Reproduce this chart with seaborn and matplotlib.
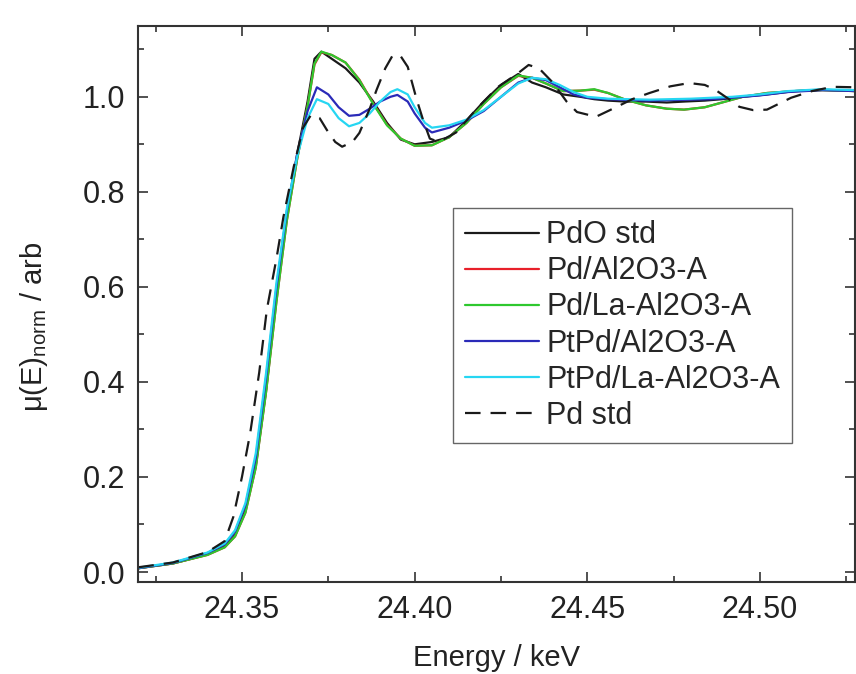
import numpy as np
import pandas as pd
import matplotlib
matplotlib.use('Agg')
import matplotlib.pyplot as plt
import seaborn as sns
from matplotlib.ticker import MultipleLocator

# %% data
labels = ['PdO std', 'Pd/Al2O3-A', 'Pd/La-Al2O3-A', 'PtPd/Al2O3-A', 'PtPd/La-Al2O3-A', 'Pd std']

e_pd = [24.320, 24.330, 24.340, 24.345, 24.348, 24.351, 24.354, 24.357, 24.360, 24.363,
        24.366, 24.369, 24.371, 24.373, 24.376, 24.380, 24.384, 24.388, 24.392, 24.396,
        24.400, 24.405, 24.410, 24.415, 24.420, 24.425, 24.430, 24.434, 24.438, 24.443,
        24.448, 24.452, 24.456, 24.461, 24.467, 24.473, 24.478, 24.484, 24.489, 24.495,
        24.502, 24.510, 24.518, 24.528]
mu_pdo = [0.008, 0.018, 0.037, 0.054, 0.078, 0.130, 0.225, 0.385, 0.580, 0.750,
          0.880, 0.990, 1.080, 1.095, 1.080, 1.060, 1.030, 0.990, 0.945, 0.910,
          0.900, 0.905, 0.915, 0.950, 0.990, 1.025, 1.048, 1.030, 1.020, 1.005,
          1.000, 0.995, 0.992, 0.990, 0.990, 0.988, 0.990, 0.992, 0.995, 1.000,
          1.005, 1.012, 1.015, 1.012]
mu_pd_al = [0.008, 0.018, 0.036, 0.052, 0.075, 0.125, 0.220, 0.380, 0.570, 0.740,
            0.870, 0.980, 1.068, 1.094, 1.088, 1.072, 1.036, 0.986, 0.941, 0.912,
            0.897, 0.898, 0.915, 0.945, 0.985, 1.020, 1.044, 1.040, 1.028, 1.012,
            1.013, 1.015, 1.008, 0.994, 0.982, 0.975, 0.973, 0.978, 0.988, 1.000,
            1.008, 1.012, 1.014, 1.012]
mu_pd_la = [0.008, 0.018, 0.036, 0.052, 0.075, 0.125, 0.220, 0.380, 0.570, 0.740,
            0.870, 0.980, 1.070, 1.095, 1.088, 1.072, 1.035, 0.985, 0.940, 0.912,
            0.897, 0.898, 0.915, 0.945, 0.985, 1.020, 1.045, 1.040, 1.028, 1.012,
            1.013, 1.016, 1.008, 0.994, 0.982, 0.975, 0.973, 0.978, 0.988, 1.000,
            1.008, 1.012, 1.014, 1.012]

e_ptpd = [24.320, 24.330, 24.340, 24.345, 24.348, 24.351, 24.354, 24.357, 24.360, 24.363,
          24.366, 24.369, 24.3717, 24.375, 24.378, 24.381, 24.384, 24.387, 24.390, 24.393,
          24.395, 24.398, 24.400, 24.403, 24.405, 24.410, 24.415, 24.420, 24.425, 24.430,
          24.434, 24.438, 24.442, 24.446, 24.450, 24.456, 24.462, 24.468, 24.474, 24.480,
          24.486, 24.492, 24.500, 24.508, 24.518, 24.528]
mu_ptpd_al = [0.008, 0.019, 0.040, 0.058, 0.085, 0.140, 0.240, 0.410, 0.600, 0.760,
              0.880, 0.970, 1.020, 1.005, 0.978, 0.960, 0.962, 0.975, 0.990, 1.000,
              1.004, 0.990, 0.965, 0.935, 0.925, 0.935, 0.950, 0.970, 1.000, 1.030,
              1.040, 1.035, 1.020, 1.005, 0.998, 0.995, 0.993, 0.992, 0.993, 0.994,
              0.995, 0.998, 1.003, 1.010, 1.014, 1.012]
mu_ptpd_la = [0.009, 0.020, 0.041, 0.060, 0.088, 0.145, 0.250, 0.420, 0.610, 0.765,
              0.875, 0.955, 0.995, 0.985, 0.955, 0.938, 0.945, 0.965, 0.990, 1.010,
              1.016, 1.005, 0.978, 0.945, 0.935, 0.940, 0.952, 0.972, 1.000, 1.028,
              1.040, 1.037, 1.025, 1.010, 1.000, 0.996, 0.995, 0.994, 0.995, 0.996,
              0.998, 1.000, 1.005, 1.012, 1.016, 1.014]

e_pdstd = [24.320, 24.330, 24.340, 24.345, 24.3475, 24.350, 24.3524, 24.355, 24.3572, 24.360,
           24.362, 24.365, 24.3677, 24.370, 24.3725, 24.3746, 24.377, 24.379, 24.382, 24.384,
           24.387, 24.389, 24.3915, 24.3937, 24.396, 24.398, 24.4006, 24.4025, 24.4044, 24.407,
           24.412, 24.418, 24.424, 24.430, 24.433, 24.436, 24.440, 24.444, 24.447, 24.4525,
           24.458, 24.463, 24.468, 24.474, 24.4795, 24.484, 24.487, 24.491, 24.494, 24.498,
           24.502, 24.509, 24.515, 24.521, 24.528]
mu_pdstd = [0.010, 0.020, 0.042, 0.065, 0.116, 0.200, 0.293, 0.420, 0.552, 0.660,
            0.747, 0.853, 0.935, 0.962, 0.955, 0.930, 0.905, 0.895, 0.905, 0.924,
            0.975, 1.015, 1.060, 1.088, 1.085, 1.063, 0.994, 0.950, 0.912, 0.905,
            0.925, 0.975, 1.020, 1.050, 1.067, 1.060, 1.030, 0.990, 0.968, 0.958,
            0.977, 0.995, 1.008, 1.022, 1.029, 1.025, 1.015, 0.995, 0.979, 0.972,
            0.973, 0.998, 1.012, 1.021, 1.020]

series = [(e_pd, mu_pdo), (e_pd, mu_pd_al), (e_pd, mu_pd_la),
          (e_ptpd, mu_ptpd_al), (e_ptpd, mu_ptpd_la), (e_pdstd, mu_pdstd)]
colors = ['#1a1a1a', '#e8202a', '#2ec82e', '#2a2ab8', '#26d6f2', '#1a1a1a']

# %% plot
sns.set_style('ticks')
plt.rcParams['font.family'] = ['Liberation Sans', 'DejaVu Sans']
plt.rcParams['mathtext.fontset'] = 'custom'
plt.rcParams['mathtext.rm'] = 'Liberation Sans'

fig = plt.figure(figsize=(8.56, 6.74), dpi=100)
ax = fig.add_axes([138 / 856, 92 / 674, 717 / 856, 556 / 674])

for (x, y), lab, c in zip(series, labels, colors):
    if lab == 'Pd std':
        sns.lineplot(x=x, y=y, ax=ax, color=c, lw=1.6, label=lab,
                     linestyle=(0, (7, 4.5)), estimator=None, sort=False)
    else:
        sns.lineplot(x=x, y=y, ax=ax, color=c, lw=1.6, label=lab,
                     estimator=None, sort=False)

ax.set_xlim(24.3199, 24.5275)
ax.set_ylim(-0.021, 1.149)
ax.xaxis.set_major_locator(MultipleLocator(0.05))
ax.xaxis.set_minor_locator(MultipleLocator(0.025))
ax.yaxis.set_major_locator(MultipleLocator(0.2))
ax.yaxis.set_minor_locator(MultipleLocator(0.1))
ax.xaxis.set_major_formatter(matplotlib.ticker.FormatStrFormatter('%.2f'))
ax.yaxis.set_major_formatter(matplotlib.ticker.FormatStrFormatter('%.1f'))
ax.tick_params(which='both', direction='in', top=True, right=True, colors='#333333',
               labelcolor='#222222', labelsize=22, width=1.2)
ax.tick_params(which='major', length=7, pad=9)
ax.tick_params(which='minor', length=4)
for s in ax.spines.values():
    s.set_color('#333333')
    s.set_linewidth(1.5)

ax.set_xlabel('Energy / keV', fontsize=21, color='#222222', labelpad=14)
ax.set_ylabel('μ(E)$_{\\mathrm{norm}}$ / arb', fontsize=21, color='#222222')
ax.yaxis.set_label_coords(-0.123, 0.459)

ax.legend(loc='upper left', bbox_to_anchor=(453 / 856, 1 - 208 / 674),
          bbox_transform=fig.transFigure, borderaxespad=0, fontsize=22,
          frameon=True, fancybox=False, edgecolor='#666666', framealpha=1,
          handlelength=2.4, handletextpad=0.25, labelspacing=0.2,
          borderpad=0.4)

fig.savefig('out.png', dpi=100)
